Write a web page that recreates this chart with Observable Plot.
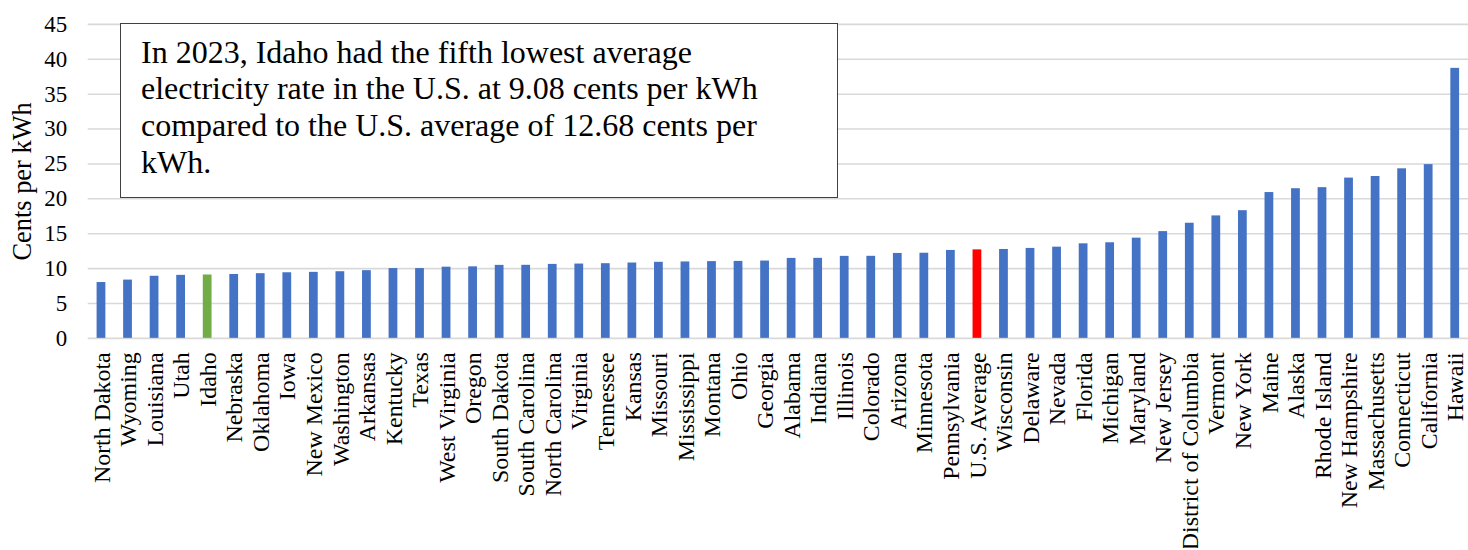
<!DOCTYPE html>
<html>
<head>
<meta charset="utf-8">
<script src="https://cdn.jsdelivr.net/npm/d3@7"></script>
<script src="https://cdn.jsdelivr.net/npm/@observablehq/plot@0.6"></script>
<style>
  html, body { margin: 0; padding: 0; background: #fff; overflow: hidden; }
  #wrap { position: relative; width: 1468px; height: 550px; overflow: hidden; }
  #note {
    position: absolute; left: 120px; top: 23px; width: 718px; height: 175px;
    box-sizing: border-box; border: 1.5px solid #404040; background: #fff;
    padding: 9.6px 0 0 20px;
    font-family: "Liberation Serif", "Times New Roman", serif; font-size: 32px;
    line-height: 36.7px; color: #000; white-space: nowrap;
  }
</style>
</head>
<body>
<div id="wrap"></div>
<script>
const states = ["North Dakota","Wyoming","Louisiana","Utah","Idaho","Nebraska","Oklahoma","Iowa","New Mexico","Washington","Arkansas","Kentucky","Texas","West Virginia","Oregon","South Dakota","South Carolina","North Carolina","Virginia","Tennessee","Kansas","Missouri","Mississippi","Montana","Ohio","Georgia","Alabama","Indiana","Illinois","Colorado","Arizona","Minnesota","Pennsylvania","U.S. Average","Wisconsin","Delaware","Nevada","Florida","Michigan","Maryland","New Jersey","District of Columbia","Vermont","New York","Maine","Alaska","Rhode Island","New Hampshire","Massachusetts","Connecticut","California","Hawaii"];
const rates = [8.0,8.35,8.9,9.03,9.08,9.15,9.27,9.4,9.46,9.55,9.7,10.0,10.0,10.2,10.25,10.46,10.47,10.6,10.65,10.7,10.8,10.9,10.95,11.0,11.03,11.08,11.46,11.47,11.75,11.76,12.17,12.2,12.6,12.68,12.74,12.89,13.07,13.55,13.7,14.36,15.3,16.5,17.55,18.3,20.9,21.45,21.6,22.97,23.2,24.3,24.9,38.7];
const yTicks = [0,5,10,15,20,25,30,35,40,45];
const yLabel = "Cents per kWh";
const noteLines = ["In 2023, Idaho had the fifth lowest average","electricity rate in the U.S. at 9.08 cents per kWh","compared to the U.S. average of 12.68 cents per","kWh."];

const data = states.map((s, i) => ({state: s, rate: rates[i],
  kind: s === "Idaho" ? "idaho" : s === "U.S. Average" ? "us" : "state"}));

const font = "'Liberation Serif', 'Times New Roman', serif";

const chart = Plot.plot({
  width: 1473,
  height: 550,
  marginLeft: 88,
  marginRight: 0,
  marginTop: 24,
  marginBottom: 211,
  style: {fontFamily: font, background: "#fff", color: "#000"},
  x: {domain: states, paddingInner: 0.67, paddingOuter: 0.335, axis: null},
  y: {domain: [0, 45], axis: null},
  color: {domain: ["state","idaho","us"], range: ["#4472C4","#70AD47","#FF0000"]},
  marks: [
    Plot.ruleY(yTicks, {stroke: "#d9d9d9", strokeWidth: 1.6}),
    Plot.barY(data, {x: "state", y: "rate", fill: "kind"}),
    Plot.axisY({ticks: yTicks, tickSize: 0, tickPadding: 21, fontSize: 23, fontFamily: font, label: null, fill: "#000"}),
    Plot.text([yLabel], {text: d => d, frameAnchor: "left", rotate: -90, textAnchor: "middle", lineAnchor: "middle", dx: -65.8, fontSize: 26.5, fontFamily: font, fill: "#000"}),
    Plot.text(data, {x: "state", y: () => 0, text: "state", rotate: -90, textAnchor: "end", lineAnchor: "middle", dy: 14, dx: 0.5, fontSize: 24, fontFamily: font, fill: "#000"})
  ]
});

const wrap = document.getElementById("wrap");
wrap.appendChild(chart);
const note = document.createElement("div");
note.id = "note";
note.innerHTML = noteLines.join("<br>");
wrap.appendChild(note);
</script>
</body>
</html>
